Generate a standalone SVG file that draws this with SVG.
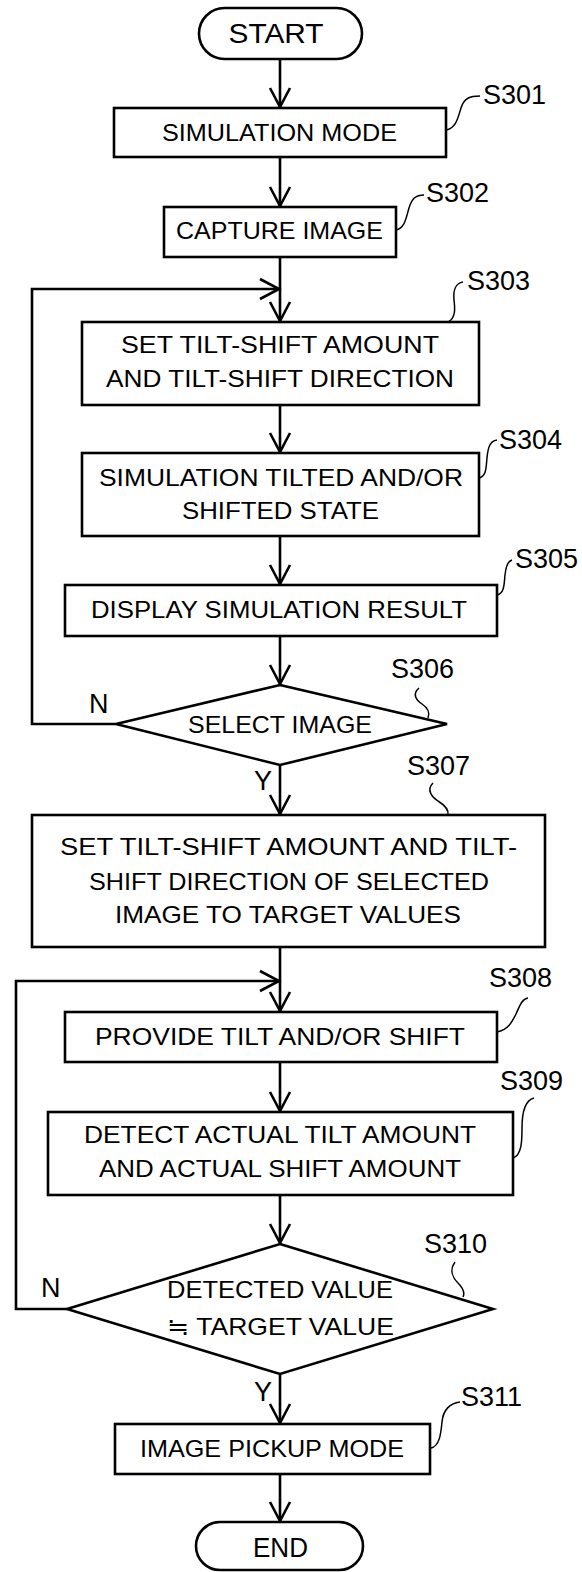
<svg xmlns="http://www.w3.org/2000/svg" width="582" height="1572" viewBox="0 0 582 1572">
<defs>
<marker id="arr" markerUnits="userSpaceOnUse" markerWidth="24" markerHeight="24" viewBox="-21 -12 24 24" refX="0" refY="0" orient="auto">
<path d="M-19,-10 L0,0 L-19,10" fill="none" stroke="#000" stroke-width="2.6"/>
</marker>
</defs>
<style>
.box{fill:#fff;stroke:#000;stroke-width:2.6}
.ln{fill:none;stroke:#000;stroke-width:2.6}
.ld{fill:none;stroke:#000;stroke-width:1.5}
.t{font-family:"Liberation Sans","DejaVu Sans","Noto Sans CJK JP",sans-serif;font-size:24px;fill:#000;text-anchor:middle}
.lb{font-family:"Liberation Sans","DejaVu Sans",sans-serif;font-size:27px;fill:#000}
</style>
<rect width="582" height="1572" fill="#fff"/>
<g id="connectors">
<path class="ln" d="M280,59 V107" marker-end="url(#arr)"/>
<path class="ln" d="M280,157 V206" marker-end="url(#arr)"/>
<path class="ln" d="M280,257 V321" marker-end="url(#arr)"/>
<path class="ln" d="M116,724 H32 V289 H279" marker-end="url(#arr)"/>
<path class="ln" d="M280,405 V452" marker-end="url(#arr)"/>
<path class="ln" d="M280,536 V584" marker-end="url(#arr)"/>
<path class="ln" d="M280,636 V684" marker-end="url(#arr)"/>
<path class="ln" d="M280,765 V814" marker-end="url(#arr)"/>
<path class="ln" d="M280,947 V1011" marker-end="url(#arr)"/>
<path class="ln" d="M67,1309 H16 V981 H279" marker-end="url(#arr)"/>
<path class="ln" d="M280,1062 V1111" marker-end="url(#arr)"/>
<path class="ln" d="M280,1195 V1243" marker-end="url(#arr)"/>
<path class="ln" d="M280,1374 V1423" marker-end="url(#arr)"/>
<path class="ln" d="M280,1474 V1521" marker-end="url(#arr)"/>
<text class="lb" x="89" y="713">N</text>
<text class="lb" x="254" y="790">Y</text>
<text class="lb" x="41" y="1297">N</text>
<text class="lb" x="254" y="1401">Y</text>
</g>
<g id="start">
<rect class="box" x="199" y="8" width="163" height="51" rx="25.5"/>
<text class="t" x="276" y="43" style="font-size:28px" textLength="95" lengthAdjust="spacingAndGlyphs">START</text>
</g>
<g id="s301">
<rect class="box" x="114" y="108" width="332" height="49"/>
<text class="t" x="279.5" y="141" textLength="235" lengthAdjust="spacingAndGlyphs">SIMULATION MODE</text>
<path class="ld" d="M446,130 C456,128 458,118 461,108 C464,98 470,96 480,96"/>
<text class="lb" x="483" y="104">S301</text>
</g>
<g id="s302">
<rect class="box" x="164" y="207" width="232" height="50"/>
<text class="t" x="279.5" y="239" textLength="207" lengthAdjust="spacingAndGlyphs">CAPTURE IMAGE</text>
<path class="ld" d="M396,230 C405,228 406,218 409,208 C412,198 416,195 424,195"/>
<text class="lb" x="426" y="202">S302</text>
</g>
<g id="s303">
<rect class="box" x="82" y="322" width="397" height="83"/>
<text class="t" x="280" y="353" textLength="318" lengthAdjust="spacingAndGlyphs">SET TILT-SHIFT AMOUNT</text>
<text class="t" x="280" y="387" textLength="348" lengthAdjust="spacingAndGlyphs">AND TILT-SHIFT DIRECTION</text>
<path class="ld" d="M448,322 C456,318 455,308 454,300 C453,290 456,283 463,282"/>
<text class="lb" x="467" y="290">S303</text>
</g>
<g id="s304">
<rect class="box" x="82" y="453" width="397" height="83"/>
<text class="t" x="281" y="486" textLength="364" lengthAdjust="spacingAndGlyphs">SIMULATION TILTED AND/OR</text>
<text class="t" x="280.5" y="519" textLength="197" lengthAdjust="spacingAndGlyphs">SHIFTED STATE</text>
<path class="ld" d="M479,478 C487,476 486,466 487,458 C488,447 490,441 497,440"/>
<text class="lb" x="499" y="449">S304</text>
</g>
<g id="s305">
<rect class="box" x="65" y="585" width="432" height="51"/>
<text class="t" x="279" y="618" textLength="376" lengthAdjust="spacingAndGlyphs">DISPLAY SIMULATION RESULT</text>
<path class="ld" d="M497,595 C505,593 504,583 505,575 C506,565 508,561 512,560"/>
<text class="lb" x="515" y="568">S305</text>
</g>
<g id="s306">
<polygon class="box" points="280,685 447,724 280,765 116,724"/>
<text class="t" x="280" y="733" textLength="184" lengthAdjust="spacingAndGlyphs">SELECT IMAGE</text>
<path class="ld" d="M419,688 C412,694 416,700 422,704 C428,708 430,713 428,718"/>
<text class="lb" x="391" y="678">S306</text>
</g>
<g id="s307">
<rect class="box" x="32" y="815" width="513" height="132"/>
<text class="t" x="288.5" y="855" textLength="457" lengthAdjust="spacingAndGlyphs">SET TILT-SHIFT AMOUNT AND TILT-</text>
<text class="t" x="289" y="890" textLength="400" lengthAdjust="spacingAndGlyphs">SHIFT DIRECTION OF SELECTED</text>
<text class="t" x="288" y="923" textLength="346" lengthAdjust="spacingAndGlyphs">IMAGE TO TARGET VALUES</text>
<path class="ld" d="M433,783 C426,790 432,797 438,801 C446,806 449,810 448,815"/>
<text class="lb" x="407" y="775">S307</text>
</g>
<g id="s308">
<rect class="box" x="65" y="1012" width="432" height="50"/>
<text class="t" x="280" y="1045" textLength="370" lengthAdjust="spacingAndGlyphs">PROVIDE TILT AND/OR SHIFT</text>
<path class="ld" d="M497,1032 C508,1030 512,1022 516,1014 C520,1005 522,999 528,998"/>
<text class="lb" x="489" y="987">S308</text>
</g>
<g id="s309">
<rect class="box" x="48" y="1112" width="465" height="83"/>
<text class="t" x="280" y="1143" textLength="392" lengthAdjust="spacingAndGlyphs">DETECT ACTUAL TILT AMOUNT</text>
<text class="t" x="280" y="1177" textLength="362" lengthAdjust="spacingAndGlyphs">AND ACTUAL SHIFT AMOUNT</text>
<path class="ld" d="M513,1158 C522,1155 522,1140 522,1128 C522,1110 526,1100 534,1098"/>
<text class="lb" x="500" y="1090">S309</text>
</g>
<g id="s310">
<polygon class="box" points="280,1244 493,1309 280,1374 67,1309"/>
<text class="t" x="280" y="1298" textLength="226" lengthAdjust="spacingAndGlyphs">DETECTED VALUE</text>
<text class="t" x="280.5" y="1335" textLength="227" lengthAdjust="spacingAndGlyphs">≒ TARGET VALUE</text>
<path class="ld" d="M455,1262 C449,1270 453,1278 458,1283 C464,1289 465,1293 463,1297"/>
<text class="lb" x="424" y="1253">S310</text>
</g>
<g id="s311">
<rect class="box" x="115" y="1424" width="315" height="50"/>
<text class="t" x="272" y="1457" textLength="264" lengthAdjust="spacingAndGlyphs">IMAGE PICKUP MODE</text>
<path class="ld" d="M431,1448 C440,1446 441,1432 442,1422 C443,1410 450,1403 460,1402"/>
<text class="lb" x="461" y="1406">S311</text>
</g>
<g id="end">
<rect class="box" x="196" y="1522" width="167" height="48" rx="24"/>
<text class="t" x="280.5" y="1557" style="font-size:28px" textLength="55" lengthAdjust="spacingAndGlyphs">END</text>
</g>
</svg>
